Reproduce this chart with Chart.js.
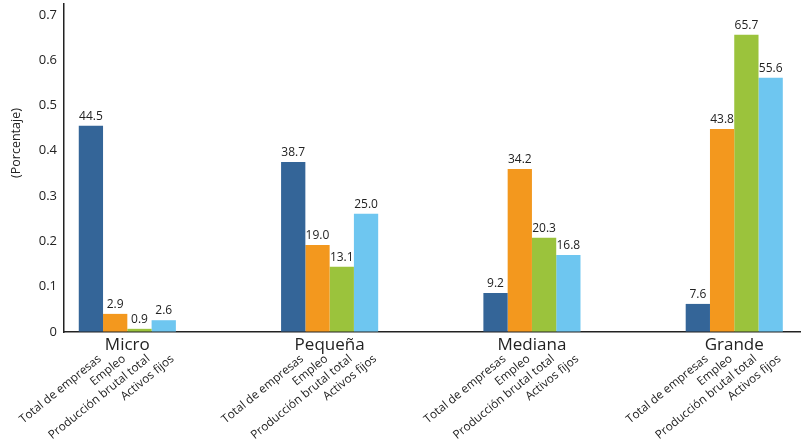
<!DOCTYPE html>
<html>
<head>
<meta charset="utf-8">
<script src="https://cdn.jsdelivr.net/npm/chart.js@4/dist/chart.umd.min.js"></script>
<style>
  html, body { margin: 0; padding: 0; background: #fff; }
  canvas { display: block; }
</style>
</head>
<body>
<canvas id="empresas" width="803" height="440"></canvas>
<script>
/* tamaños de empresa (grupos del eje x) */
const groups = ['Micro', 'Pequeña', 'Mediana', 'Grande'];
const seriesNames = ['Total de empresas', 'Empleo', 'Producción brutal total', 'Activos fijos'];
const seriesColors = ['#346598', '#f3981e', '#9bc33c', '#6ec6f0'];

const totalEmpresas = [0.455, 0.375, 0.086, 0.062];
const empleo        = [0.040, 0.192, 0.360, 0.448];
const produccion    = [0.007, 0.144, 0.208, 0.656];
const activosFijos  = [0.026, 0.261, 0.170, 0.561];

/* etiquetas que aparecen encima de cada barra */
const totalEmpresasLbl = ['44.5', '38.7', '9.2', '7.6'];
const empleoLbl        = ['2.9', '19.0', '34.2', '43.8'];
const produccionLbl    = ['0.9', '13.1', '20.3', '65.7'];
const activosFijosLbl  = ['2.6', '25.0', '16.8', '55.6'];

const yTicks = [0, 0.1, 0.2, 0.3, 0.4, 0.5, 0.6, 0.7];

const values = [totalEmpresas, empleo, produccion, activosFijos];
const valueLabels = [totalEmpresasLbl, empleoLbl, produccionLbl, activosFijosLbl];

const FONT = "'Open Sans', 'DejaVu Sans', sans-serif";
const TEXT = '#222';

// textos sobre las barras y nombres de serie girados bajo cada barra
const barText = {
  id: 'barText',
  afterDatasetsDraw(chart) {
    const ctx = chart.ctx;
    const bottom = chart.chartArea.bottom;
    ctx.save();
    ctx.fillStyle = TEXT;
    values.forEach((v, i) => {
      const meta = chart.getDatasetMeta(i);
      meta.data.forEach((bar, j) => {
        ctx.font = '12px ' + FONT;
        ctx.textAlign = 'center';
        ctx.textBaseline = 'alphabetic';
        ctx.fillText(valueLabels[i][j], bar.x, bar.y - 6);

        ctx.save();
        ctx.translate(bar.x + 11, bottom + 28);
        ctx.rotate(-39 * Math.PI / 180);
        ctx.font = '11.8px ' + FONT;
        ctx.textAlign = 'right';
        ctx.textBaseline = 'alphabetic';
        ctx.fillText(seriesNames[i], 0, 0);
        ctx.restore();
      });
    });
    // titulo del eje y
    ctx.save();
    ctx.translate(16, 143);
    ctx.rotate(-Math.PI / 2);
    ctx.font = '12.5px ' + FONT;
    ctx.textAlign = 'center';
    ctx.textBaseline = 'middle';
    ctx.fillText('(Porcentaje)', 0, 0);
    ctx.restore();
    ctx.restore();
  }
};

new Chart(document.getElementById('empresas').getContext('2d'), {
  type: 'bar',
  data: {
    datasets: values.map((v, i) => ({
      label: seriesNames[i],
      data: v.map((y, j) => ({ x: j, y: y })),
      backgroundColor: seriesColors[i],
      borderWidth: 0,
      categoryPercentage: 0.48,
      barPercentage: 1
    }))
  },
  options: {
    responsive: false,
    animation: false,
    layout: { padding: { left: 0, right: 3, top: 4, bottom: 0 } },
    plugins: { legend: { display: false }, tooltip: { enabled: false } },
    scales: {
      x: {
        type: 'linear',
        offset: false,
        min: -0.313,
        max: 3.325,
        afterBuildTicks: (axis) => { axis.ticks = groups.map((g, i) => ({ value: i })); },
        afterFit: (scale) => { scale.height = 108; scale.paddingLeft = 0; scale.paddingRight = 0; },
        grid: { offset: false, drawOnChartArea: false, drawTicks: false },
        border: { display: true, color: '#222', width: 1.5 },
        ticks: {
          padding: 3,
          autoSkip: false,
          maxRotation: 0,
          color: TEXT,
          font: { family: FONT, size: 17 },
          callback: (v) => groups[v]
        }
      },
      y: {
        min: 0,
        max: 0.724,
        afterBuildTicks: (axis) => { axis.ticks = yTicks.map(t => ({ value: t })); },
        afterFit: (scale) => { scale.width = 64; scale.paddingTop = 0; scale.paddingBottom = 0; },
        grid: { drawOnChartArea: false, drawTicks: false },
        border: { display: true, color: '#222', width: 1.5 },
        ticks: {
          padding: 7,
          color: TEXT,
          font: { family: FONT, size: 13 },
          callback: (v) => v === 0 ? '0' : v.toFixed(1)
        }
      }
    }
  },
  plugins: [barText]
});
</script>
</body>
</html>
